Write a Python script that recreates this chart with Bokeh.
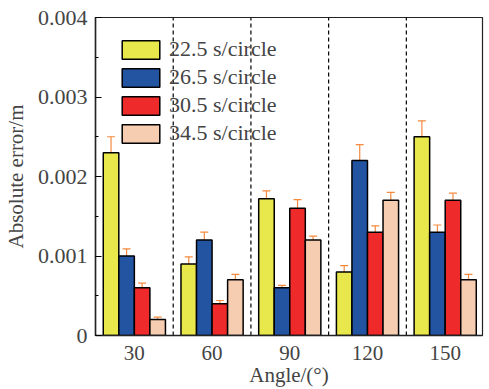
from bokeh.plotting import figure
from bokeh.models import (ColumnDataSource, Whisker, TeeHead, FixedTicker, SingleIntervalTicker,
                          CustomJSTickFormatter, Range1d, Legend, LegendItem)
from bokeh.embed import file_html
from bokeh.resources import INLINE

angles = ["30", "60", "90", "120", "150"]
series_names = ["22.5 s/circle", "26.5 s/circle", "30.5 s/circle", "34.5 s/circle"]
v_225 = [0.0023, 0.0009, 0.00172, 0.0008, 0.0025]
v_265 = [0.0010, 0.0012, 0.0006, 0.0022, 0.0013]
v_305 = [0.0006, 0.0004, 0.0016, 0.0013, 0.0017]
v_345 = [0.0002, 0.0007, 0.0012, 0.0017, 0.0007]
e_225 = [0.0002, 0.00009, 0.0001, 0.00008, 0.0002]
e_265 = [0.00009, 0.0001, 0.00003, 0.0002, 0.00009]
e_305 = [0.00006, 0.00004, 0.00011, 0.00008, 0.00009]
e_345 = [0.00003, 0.00007, 0.00005, 0.0001, 0.00007]
colors = ["#E8E84C", "#2354A2", "#EE2A2A", "#F7CDB2"]
err_color = "#F58A3F"

values = [v_225, v_265, v_305, v_345]
errors = [e_225, e_265, e_305, e_345]

FONT = "Liberation Serif"

p = figure(width=489, height=389, output_backend="svg", toolbar_location=None,
           x_range=Range1d(-0.5, 4.48), y_range=Range1d(0, 0.004),
           min_border_left=90, min_border_right=7, min_border_top=17, min_border_bottom=52)
p.xgrid.visible = False
p.ygrid.visible = False
p.outline_line_color = "#222222"
p.outline_line_width = 1.2
p.background_fill_color = "white"

# dashed dividers between groups
div_x = [i + 0.5 for i in range(len(angles) - 1)]
p.segment(x0=div_x, x1=div_x, y0=[0] * len(div_x), y1=[0.004] * len(div_x),
          line_color="black", line_dash="4 3", line_width=1.2)

bw = 0.2
offsets = [-0.3, -0.1, 0.1, 0.3]
items = []
for k in range(4):
    xs = [i + offsets[k] for i in range(len(angles))]
    src = ColumnDataSource(dict(x=xs, top=values[k],
                                lo=[v - e for v, e in zip(values[k], errors[k])],
                                hi=[v + e for v, e in zip(values[k], errors[k])]))
    r = p.vbar(x="x", top="top", width=bw, bottom=0, source=src, fill_color=colors[k],
               line_color="black", line_width=1.5)
    items.append(LegendItem(label=series_names[k], renderers=[r]))
    w = Whisker(base="x", upper="hi", lower="lo", source=src, line_color=err_color, line_width=1.2,
                upper_head=TeeHead(size=8, line_color=err_color, line_width=1.2),
                lower_head=TeeHead(size=8, line_color=err_color, line_width=1.2))
    p.add_layout(w)

legend = Legend(items=items, location=(22, 189), margin=0, padding=0, spacing=2,
                glyph_width=47, glyph_height=23, label_height=23, label_standoff=5,
                label_text_font=FONT, label_text_font_size="22px",
                border_line_color=None, background_fill_alpha=0)
p.add_layout(legend)

# x axis
p.xaxis.ticker = FixedTicker(ticks=list(range(len(angles))))
p.xaxis.major_label_overrides = {i: a for i, a in enumerate(angles)}
p.xaxis.major_tick_line_color = None
p.xaxis.minor_tick_line_color = None
p.xaxis.axis_label = "Angle/(°)"
p.xaxis.axis_label_text_font = FONT
p.xaxis.axis_label_text_font_style = "normal"
p.xaxis.axis_label_text_font_size = "21px"
p.xaxis.axis_label_standoff = 0
p.xaxis.major_label_text_font = FONT
p.xaxis.major_label_text_font_size = "21px"
p.xaxis.major_label_standoff = 4
p.xaxis.axis_line_color = "#222222"
p.xaxis.axis_line_width = 1.5

# y axis
p.yaxis.ticker = SingleIntervalTicker(interval=0.001, num_minor_ticks=2)
p.yaxis.formatter = CustomJSTickFormatter(code="return tick == 0 ? '0' : tick.toFixed(3);")
p.yaxis.major_tick_in = 6
p.yaxis.major_tick_out = 0
p.yaxis.minor_tick_in = 3
p.yaxis.minor_tick_out = 0
p.yaxis.axis_label = "Absolute error/m"
p.yaxis.axis_label_text_font = FONT
p.yaxis.axis_label_text_font_style = "normal"
p.yaxis.axis_label_text_font_size = "21px"
p.yaxis.axis_label_standoff = 7
p.yaxis.major_label_text_font = FONT
p.yaxis.major_label_text_font_size = "22px"
p.yaxis.major_label_standoff = 8
p.yaxis.axis_line_color = "#222222"
p.yaxis.axis_line_width = 1.5

open("out.html", "w").write(file_html(p, INLINE))
